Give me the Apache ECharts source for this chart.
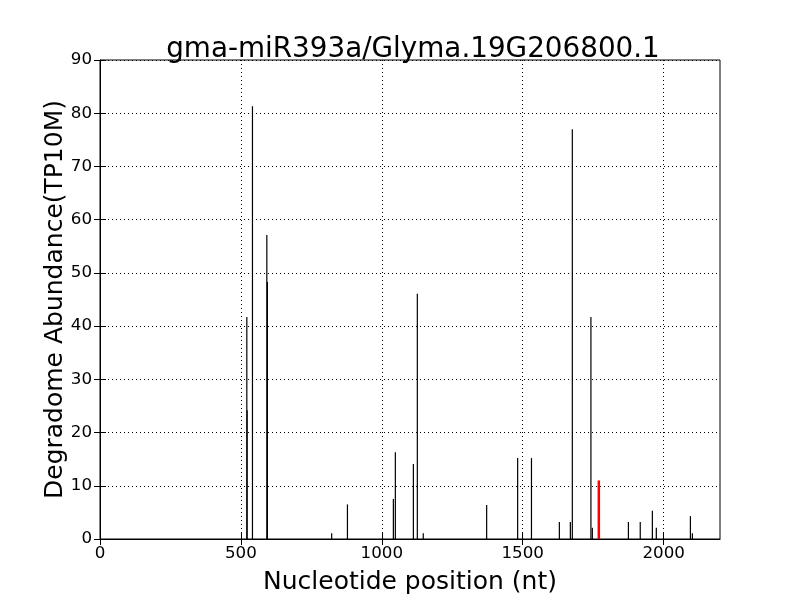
<!DOCTYPE html>
<html>
<head>
<meta charset="utf-8">
<script src="https://cdn.jsdelivr.net/npm/echarts@6/dist/echarts.min.js"></script>
<style>
  html, body { margin: 0; padding: 0; background: #fff; }
  #chart { width: 800px; height: 600px; }
</style>
</head>
<body>
<div id="chart"></div>
<script>
// cleavage positions (nt) and abundances
var positions = [521, 522, 541, 592, 594, 822, 878, 1041, 1048, 1112, 1126, 1147,
  1372, 1482, 1531, 1630, 1669, 1676, 1742, 1747, 1875, 1917, 1960, 1974, 2095, 2102];
var abundance = [41.7, 24.2, 81.3, 57.1, 48.3, 1.1, 6.5, 7.5, 16.3, 14.1, 46.1, 1.1,
  6.4, 15.2, 15.2, 3.2, 3.2, 77.0, 41.7, 2.1, 3.2, 3.2, 5.3, 2.1, 4.3, 1.1];
// the miRNA target site (red)
var sitePositions = [1770];
var siteAbundance = [11.0];

var xTicks = [0, 500, 1000, 1500, 2000];
var yTicks = [0, 10, 20, 30, 40, 50, 60, 70, 80, 90];

var font = 'DejaVu Sans';

function pairs(xs, ys) {
  return xs.map(function (x, i) { return [x, ys[i]]; });
}

function stick(color, width) {
  return function (params, api) {
    var p0 = api.coord([api.value(0), 0]);
    var p1 = api.coord([api.value(0), api.value(1)]);
    return {
      type: 'line',
      shape: { x1: p0[0], y1: p0[1], x2: p1[0], y2: p1[1] },
      style: { stroke: color, lineWidth: width }
    };
  };
}

var chart = echarts.init(document.getElementById('chart'));

var xBase = {
  type: 'value', min: 0, max: 2200, interval: 500,
  axisTick: { show: true, inside: true, length: 6, customValues: xTicks, lineStyle: { color: '#000' } }
};
var yBase = {
  type: 'value', min: yTicks[0], max: yTicks[yTicks.length - 1], interval: 10,
  axisTick: { show: true, inside: true, length: 6, lineStyle: { color: '#000' } }
};

chart.setOption({
  animation: false,
  backgroundColor: '#fff',
  title: {
    text: 'gma-miR393a/Glyma.19G206800.1',
    left: 408, top: 31, textAlign: 'center',
    textStyle: { fontFamily: font, fontSize: 27.8, fontWeight: 'normal', color: '#000' }
  },
  grid: { left: 100, right: 80, top: 60, bottom: 60, show: true, borderColor: '#000', borderWidth: 1 },
  xAxis: [
    Object.assign({}, xBase, {
      position: 'bottom',
      name: 'Nucleotide position (nt)', nameLocation: 'middle', nameGap: 31,
      nameMoveOverlap: false,
      nameTextStyle: { fontFamily: font, fontSize: 25, color: '#000' },
      axisLine: { show: true, lineStyle: { color: '#000' } },
      axisLabel: {
        fontFamily: font, fontSize: 16.7, color: '#000', margin: 6,
        customValues: xTicks,
        formatter: function (v) { return String(v); }
      },
      splitLine: { show: true, lineStyle: { color: '#000', type: [1, 3], width: 1 } }
    }),
    Object.assign({}, xBase, {
      position: 'top', axisLine: { show: false }, axisLabel: { show: false }, splitLine: { show: false }
    })
  ],
  yAxis: [
    Object.assign({}, yBase, {
      position: 'left',
      name: 'Degradome Abundance(TP10M)', nameLocation: 'middle', nameGap: 32,
      nameMoveOverlap: false,
      nameTextStyle: { fontFamily: font, fontSize: 25, color: '#000' },
      axisLine: { show: true, lineStyle: { color: '#000' } },
      axisLabel: { fontFamily: font, fontSize: 16.7, color: '#000', margin: 8 },
      splitLine: { show: true, lineStyle: { color: '#000', type: [1, 3], width: 1 } }
    }),
    Object.assign({}, yBase, {
      position: 'right', axisLine: { show: false }, axisLabel: { show: false }, splitLine: { show: false }
    })
  ],
  series: [
    {
      type: 'custom', xAxisIndex: 0, yAxisIndex: 0,
      renderItem: stick('#000', 1.2),
      data: pairs(positions, abundance)
    },
    {
      type: 'custom', xAxisIndex: 0, yAxisIndex: 0,
      renderItem: stick('#ff0000', 2.5),
      data: pairs(sitePositions, siteAbundance)
    }
  ]
});
</script>
</body>
</html>
